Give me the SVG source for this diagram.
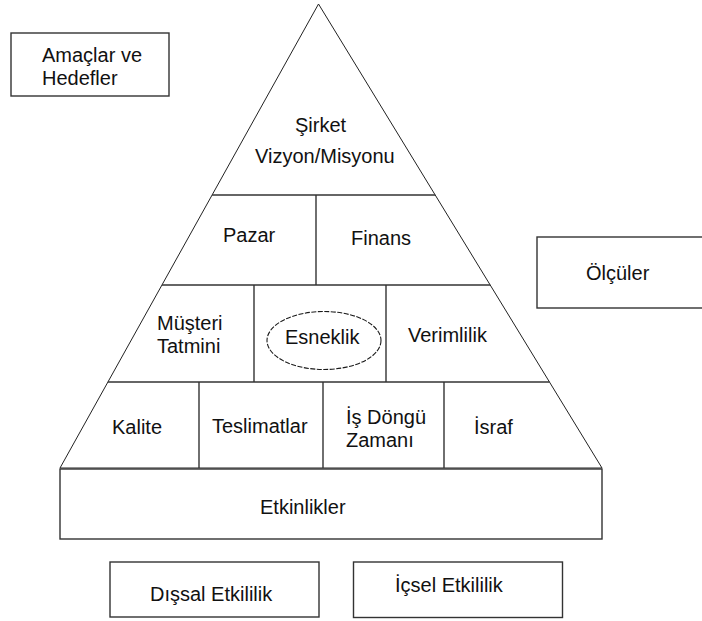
<svg xmlns="http://www.w3.org/2000/svg" width="702" height="621" viewBox="0 0 702 621">
  <style>
    .box { fill: #ffffff; stroke: #333333; stroke-width: 1.4; }
    .edge { fill: none; stroke: #333333; stroke-width: 1.4; }
    .side { fill: none; stroke: #222222; stroke-width: 1; }
    .oval { fill: #ffffff; stroke: #1a1a1a; stroke-width: 1.1; stroke-dasharray: 5 1.5; }
    text { font-family: "Liberation Sans", Arial, sans-serif; font-size: 20px; fill: #111111; }
  </style>
  <rect width="702" height="621" fill="#ffffff"/>

  <!-- pyramid outline and tier dividers -->
  <g id="connectors">
    <polygon class="side" points="318.5,4 60,468 602,468" fill="#ffffff"/>
    <line class="edge" x1="212.1" y1="195" x2="435.2" y2="195"/>
    <line class="edge" x1="162" y1="285" x2="490.2" y2="285"/>
    <line class="edge" x1="107.9" y1="382" x2="549.5" y2="382"/>
    <line class="edge" x1="316" y1="195" x2="316" y2="285"/>
    <line class="edge" x1="254" y1="285" x2="254" y2="382"/>
    <line class="edge" x1="386" y1="285" x2="386" y2="382"/>
    <line class="edge" x1="199" y1="382" x2="199" y2="468"/>
    <line class="edge" x1="323" y1="382" x2="323" y2="468"/>
    <line class="edge" x1="444" y1="382" x2="444" y2="468"/>
  </g>

  <g id="amaclar">
    <rect class="box" x="11" y="33" width="158" height="63"/>
    <text x="42" y="62">Amaçlar ve</text>
    <text x="42" y="85">Hedefler</text>
  </g>

  <g id="vizyon">
    <text x="295" y="132">Şirket</text>
    <text x="255" y="163">Vizyon/Misyonu</text>
  </g>

  <g id="pazar"><text x="223" y="242">Pazar</text></g>
  <g id="finans"><text x="351" y="245">Finans</text></g>

  <g id="olculer">
    <rect class="box" x="537" y="237" width="175" height="71"/>
    <text x="586" y="280">Ölçüler</text>
  </g>

  <g id="musteri">
    <text x="157" y="330">Müşteri</text>
    <text x="157" y="353">Tatmini</text>
  </g>

  <g id="esneklik">
    <ellipse class="oval" cx="324" cy="340.5" rx="57" ry="29"/>
    <text x="285" y="344">Esneklik</text>
  </g>

  <g id="verimlilik"><text x="408" y="342">Verimlilik</text></g>

  <g id="kalite"><text x="112" y="434">Kalite</text></g>
  <g id="teslimatlar"><text x="212" y="433">Teslimatlar</text></g>
  <g id="dongu">
    <text x="346" y="424">İş Döngü</text>
    <text x="346" y="447">Zamanı</text>
  </g>
  <g id="israf"><text x="474" y="434">İsraf</text></g>

  <g id="etkinlikler">
    <rect class="box" x="60" y="469" width="542" height="70"/>
    <text x="260" y="514">Etkinlikler</text>
  </g>

  <g id="dissal">
    <rect class="box" x="110" y="562" width="209" height="55"/>
    <text x="150" y="601">Dışsal Etkililik</text>
  </g>

  <g id="icsel">
    <rect class="box" x="353.5" y="562" width="209" height="55.5"/>
    <text x="395" y="592">İçsel Etkililik</text>
  </g>
</svg>
